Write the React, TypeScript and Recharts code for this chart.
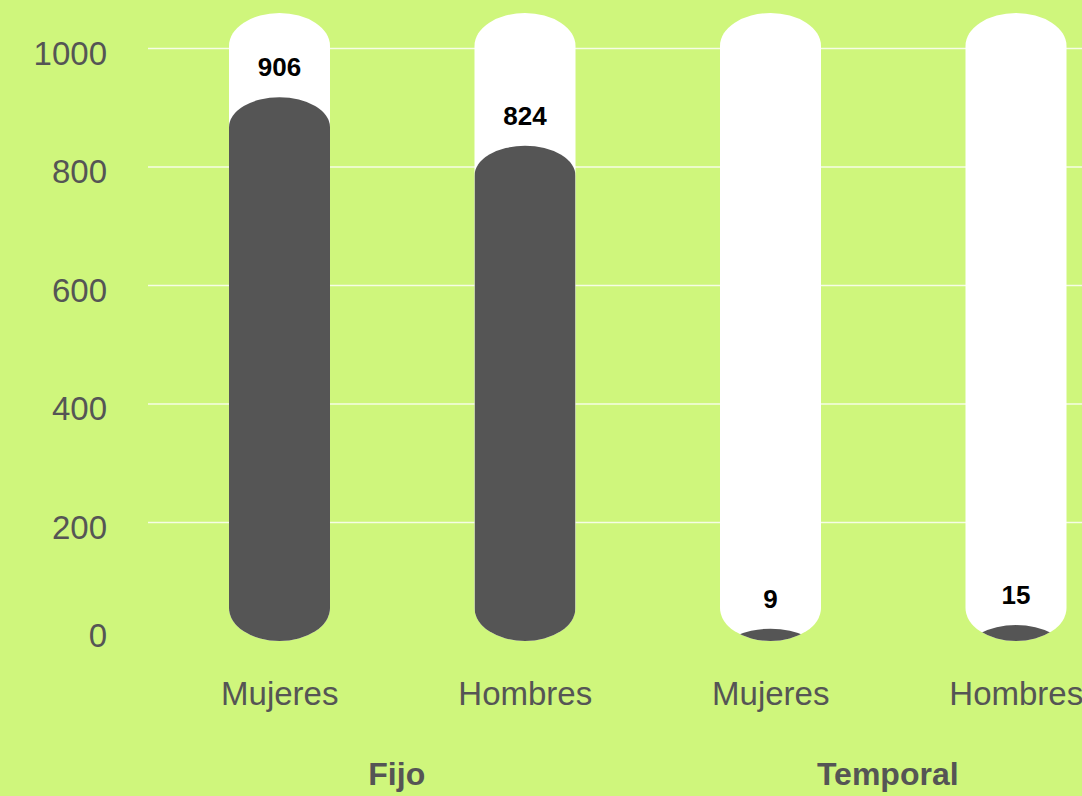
import React from 'react';
import { BarChart, Bar, XAxis, YAxis, CartesianGrid, LabelList } from 'recharts';

const categories = ['Mujeres', 'Hombres', 'Mujeres', 'Hombres'];
const groups = ['Fijo', 'Fijo', 'Temporal', 'Temporal'];
const values = [906, 824, 9, 15];
const yTicks = [0, 200, 400, 600, 800, 1000];
const gridValues = [200, 400, 600, 800, 1000];
const Y_MAX = 1060;

const data = categories.map((c, i) => ({
  key: `${groups[i]}-${c}`,
  name: c,
  group: groups[i],
  value: values[i],
}));

const FONT = '"Liberation Sans", Arial, Helvetica, sans-serif';
const BG = '#cff67c';
const DARK = '#555555';
const TEXT = '#555555';
const PLOT_TOP = 13;

const XTick = (props: any) => {
  const { x, y, payload } = props;
  const i = payload.index;
  const isFirst = i === 0 || groups[i - 1] !== groups[i];
  return (
    <g>
      <text x={x} y={y + 64} textAnchor="middle" fontSize={33} fill={TEXT} fontFamily={FONT}>
        {categories[i]}
      </text>
      {isFirst && (
        <text x={x + 117} y={y + 144} textAnchor="middle" fontSize={32} fontWeight="bold" fill={TEXT} fontFamily={FONT}>
          {groups[i]}
        </text>
      )}
    </g>
  );
};

const YTick = (props: any) => {
  const { x, y, payload } = props;
  return (
    <text x={x} y={y + (payload.value === 0 ? 6 : 16)} textAnchor="end" fontSize={33} fill={TEXT} fontFamily={FONT}>
      {payload.value}
    </text>
  );
};

const Capsule = (props: any) => {
  const { x, y, width, height } = props;
  return <rect x={x} y={y} width={width} height={height} rx={width / 2} ry={33} fill="#ffffff" />;
};

const DarkBar = (props: any) => {
  const { x, y, width, height, index } = props;
  const bottom = y + height;
  const top = y - 7;
  const id = `clip-cap-${index}`;
  return (
    <g>
      <defs>
        <clipPath id={id}>
          <rect x={x} y={PLOT_TOP} width={width} height={bottom - PLOT_TOP} rx={width / 2} ry={33} />
        </clipPath>
      </defs>
      <rect
        x={x}
        y={top}
        width={width}
        height={bottom - top + 40}
        rx={width / 2}
        ry={30}
        fill={DARK}
        clipPath={`url(#${id})`}
      />
    </g>
  );
};

const ValueLabel = (props: any) => {
  const { x, y, width, value } = props;
  return (
    <text x={x + width / 2} y={y - 28} textAnchor="middle" fontSize={26} fontWeight="bold" fill="#000" fontFamily={FONT}>
      {value}
    </text>
  );
};

export default function App() {
  return (
    <div
      style={{
        position: 'absolute',
        left: 0,
        top: 0,
        width: 1082,
        height: 796,
        overflow: 'hidden',
        background: BG,
      }}
    >
      <BarChart
        width={1141}
        height={796}
        data={data}
        margin={{ top: PLOT_TOP, right: 0, bottom: 0, left: 0 }}
      >
        <CartesianGrid
          vertical={false}
          horizontalValues={gridValues}
          stroke="#ffffff"
          strokeOpacity={0.8}
          strokeWidth={1.5}
        />
        <XAxis
          dataKey="key"
          height={155}
          interval={0}
          axisLine={false}
          tickLine={false}
          tickSize={0}
          tickMargin={0}
          padding={{ left: 9, right: 2 }}
          tick={<XTick />}
        />
        <YAxis
          width={148}
          domain={[0, Y_MAX]}
          ticks={yTicks}
          axisLine={false}
          tickLine={false}
          tickSize={0}
          tickMargin={41}
          tick={<YTick />}
        />
        <Bar
          dataKey="value"
          barSize={101}
          isAnimationActive={false}
          background={(p: any) => <Capsule key={`bg-${p.index}`} {...p} />}
          shape={(p: any) => <DarkBar {...p} />}
        >
          <LabelList dataKey="value" content={<ValueLabel />} />
        </Bar>
      </BarChart>
    </div>
  );
}
